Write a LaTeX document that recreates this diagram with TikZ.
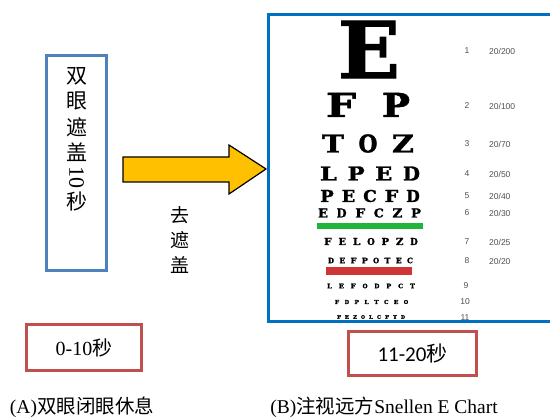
\documentclass[tikz,border=0pt]{standalone}
\usepackage{fontspec}
\setmainfont{Liberation Serif}
\newfontfamily\cjk{Noto Sans CJK SC}
\newfontfamily\snellen{DejaVu Serif}[UprightFont={* Bold}, FakeBold=1.5]
\newfontfamily\carlito{Carlito}
\newfontfamily\chartsans{Liberation Sans}
\definecolor{boxblue}{HTML}{4F81BD}
\definecolor{chartblue}{HTML}{0070C0}
\definecolor{boxred}{HTML}{C0504D}
\definecolor{arrowgold}{HTML}{FFC000}
\definecolor{bargreen}{HTML}{22B33A}
\definecolor{barred}{HTML}{D03535}
\definecolor{labelgray}{HTML}{505050}
\newcommand\fs[1]{\fontsize{#1}{#1}\selectfont}
\newcommand\chartrow[8]{% #1 name, #2 letters, #3 count, #4 x1, #5 x2, #6 y, #7 width, #8 height
  \foreach \L [count=\i] in {#2} {
    \pgfmathsetmacro\xx{#4+(\i-1)*(#5-#4)/(#3-1)}
    \node[letter] (#1l\i) at (\xx,#6) {\resizebox{#7pt}{#8pt}{\L}};
  }}
\tikzset{
  letter/.style={inner sep=0pt, text=black, font=\snellen\fs{20}},
  rownum/.style={inner sep=0pt, text=labelgray, font=\chartsans\fs{8.5}},
  rowval/.style={inner sep=0pt, anchor=west, text=labelgray, font=\chartsans\fs{8.5}},
  vchar/.style={inner sep=0pt, font=\cjk\fs{21}},
  redbox/.style={draw=boxred, line width=3pt, inner sep=0pt},
  caption/.style={inner sep=0pt, font=\fs{19.5}}
}
\begin{document}
\begin{tikzpicture}[x=1pt,y=-1pt]
\useasboundingbox[fill=white] (0,0) rectangle (550,417);

% left box
\node[draw=boxblue, line width=3pt, minimum width=60pt, minimum height=215pt, inner sep=0pt] (lbox) at (76.5,163) {};
\node[vchar] (c1) at (76.5,76) {双};
\node[vchar] (c2) at (76.5,101) {眼};
\node[vchar] (c3) at (76.5,127) {遮};
\node[vchar] (c4) at (76.5,152) {盖};
\node[inner sep=0pt, rotate=-90, font=\fs{22}] (c5) at (76.5,177.5) {10};
\node[vchar] (c6) at (76.5,202) {秒};

% arrow
\coordinate (a1) at (123,157);
\coordinate (a2) at (229,157);
\coordinate (a3) at (229,145);
\coordinate (a4) at (266,169);
\coordinate (a5) at (229,194);
\coordinate (a6) at (229,182);
\coordinate (a7) at (123,182);
\draw[fill=arrowgold, line width=1.2pt, line join=miter] (a1) -- (a2) -- (a3) -- (a4) -- (a5) -- (a6) -- (a7) -- cycle;

\node[vchar, font=\cjk\fs{19}] (q1) at (180,215) {去};
\node[vchar, font=\cjk\fs{19}] (q2) at (180,240) {遮};
\node[vchar, font=\cjk\fs{19}] (q3) at (180,265) {盖};

% chart frame
\coordinate (f1) at (552,14.5);
\coordinate (f2) at (268,14.5);
\coordinate (f3) at (268,322);
\coordinate (f4) at (552,322);
\draw[chartblue, line width=3pt] (f1) -- (f2) -- (f3) -- (f4);

% chart letters
\node[letter] (r1l1) at (369,49.5) {\resizebox{62pt}{57pt}{E}};
\node[letter] (r2l1) at (341,105) {\resizebox{30pt}{24pt}{F}};
\node[letter] (r2l2) at (396,105) {\resizebox{28pt}{24pt}{P}};
\node[letter] (r3l1) at (333,143.5) {\resizebox{22pt}{18pt}{T}};
\node[letter] (r3l2) at (368,143.5) {\resizebox{19pt}{18pt}{O}};
\node[letter] (r3l3) at (403,143.5) {\resizebox{22pt}{18pt}{Z}};
\chartrow{r4}{L,P,E,D}{4}{328.5}{411.5}{173.5}{17}{14}
\chartrow{r5}{P,E,C,F,D}{5}{327}{413}{196}{13.5}{12}
\chartrow{r6}{E,D,F,C,Z,P}{6}{323}{416}{213}{10}{9}
\chartrow{r7}{F,E,L,O,P,Z,D}{7}{328}{414}{241.5}{7.5}{7}
\chartrow{r8}{D,E,F,P,O,T,E,C}{8}{331}{410}{260.5}{6}{5.5}
\chartrow{r9}{L,E,F,O,D,P,C,T}{8}{329.5}{412.5}{286}{5}{4.5}
\chartrow{r10}{F,D,P,L,T,C,E,O}{8}{337}{406}{302}{4.5}{4}
\chartrow{r11}{F,E,Z,O,L,C,F,T,D}{9}{339}{403}{317}{4}{3.5}

% bars
\node[fill=bargreen, minimum width=106pt, minimum height=6pt, inner sep=0pt] (gbar) at (370,226) {};
\node[fill=barred, minimum width=86pt, minimum height=8pt, inner sep=0pt] (rbar) at (369,271) {};

% labels
\foreach \n/\y/\v in {1/51/20\slash 200, 2/106/20\slash 100, 3/144/20\slash 70, 4/174/20\slash 50, 5/196/20\slash 40, 6/213/20\slash 30, 7/242/20\slash 25, 8/261/20\slash 20} {
  \node[rownum] (n\n) at (467,\y) {\n};
  \node[rowval] (v\n) at (489,\y) {\v};
}
\node[rownum] (n9) at (466,286) {9};
\node[rownum] (n10) at (465,302) {10};
\node[rownum] (n11) at (465,318) {11};

% red boxes
\node[redbox, minimum width=115pt, minimum height=46pt] (t1) at (84,347.5) {};
\node[inner sep=0pt, font=\fs{20}] (t1t) at (t1) {0-10{\cjk 秒}};
\node[redbox, minimum width=128pt, minimum height=44pt] (t2) at (412.5,353.5) {};
\node[inner sep=0pt, font=\carlito\fs{21}] (t2t) at (t2) {11-20{\cjk 秒}};

% captions
\node[caption] (capA) at (82,407) {(A){\cjk 双眼闭眼休息}};
\node[caption] (capB) at (384,407) {(B){\cjk 注视远方}Snellen E Chart};
\end{tikzpicture}
\end{document}
